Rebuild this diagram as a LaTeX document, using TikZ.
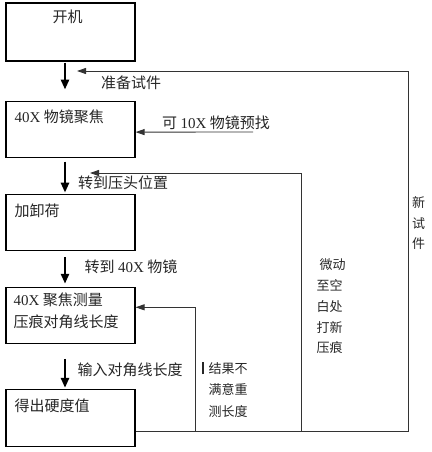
\documentclass[tikz,border=0pt]{standalone}
\usepackage{fontspec}
\setmainfont{Noto Sans CJK SC}
\newfontfamily\lat{Liberation Serif}
\usetikzlibrary{arrows.meta, positioning}

\begin{document}
\begin{tikzpicture}[x=1pt, y=-1pt, >={Triangle[length=9pt, width=6pt]},
  box/.style={draw, line width=1.1pt, minimum width=129pt, inner sep=0pt},
  txt/.style={inner sep=0pt, font=\fontsize{15}{22}\selectfont, text=black!85},
  small/.style={inner sep=0pt, text=black!85, align=left},
  flow/.style={-{Triangle[length=10pt, width=8pt]}, line width=2.5pt},
  back/.style={->, line width=0.9pt, draw=black!80}]
\useasboundingbox (0,0) rectangle (431,452);
% boxes
\node[box, minimum height=58pt] (b1) at (70.5,32) {};
\node[box, minimum height=56pt, below=39pt of b1] (b2) {};
\node[box, minimum height=56pt, below=36pt of b2] (b3) {};
\node[box, minimum height=56pt, below=36pt of b3] (b4) {};
\node[box, minimum height=57pt, below=45pt of b4] (b5) {};
\node[txt] (t1) at ([xshift=-3pt, yshift=-14pt]b1.north) {开机};
\node[txt, anchor=west] (t2) at ([xshift=9pt, yshift=-16pt]b2.north west) {{\lat 40X} 物镜聚焦};
\node[txt, anchor=west] (t3) at ([xshift=9pt, yshift=-17pt]b3.north west) {加卸荷};
\node[txt, anchor=west, align=left] (t4) at ([xshift=8pt, yshift=-24pt]b4.north west) {{\lat 40X} 聚焦测量\\压痕对角线长度};
\node[txt, anchor=west] (t5) at ([xshift=9pt, yshift=-17pt]b5.north west) {得出硬度值};
% main flow
\draw[flow, shorten <=1pt, shorten >=11pt] ([xshift=-5.5pt]b1.south) -- ([xshift=-5.5pt]b2.north);
\draw[flow, shorten <=4pt, shorten >=1pt] ([xshift=-5.5pt]b2.south) -- ([xshift=-5.5pt]b3.north);
\draw[flow, shorten <=6pt, shorten >=3pt] ([xshift=-5.5pt]b3.south) -- ([xshift=-5.5pt]b4.north);
\draw[flow, shorten <=15pt, shorten >=1pt] ([xshift=-5.5pt]b4.south) -- ([xshift=-5.5pt]b5.north);
\node[txt] (l1) at (131,83) {准备试件};
\node[txt] (l2) at (216,123) {可 {\lat 10X} 物镜预找};
\node[txt] (l3) at (123,183) {转到压头位置};
\node[txt] (l4) at (131,267) {转到 {\lat 40X} 物镜};
\node[txt] (l5) at (130,370) {输入对角线长度};
% loops back
\coordinate (ready) at (77,71);
\coordinate (find) at (253,132);
\coordinate (press) at (90,173);
\coordinate (j1) at (195,431);
\coordinate (j2) at (301,431);
\coordinate (rt) at (408,431);
\draw[back] (b5.east |- rt) -- (rt) |- (ready);
\draw[back] (find) -- ([yshift=-3pt]b2.east);
\draw[back] (j2) |- (press);
\draw[back] (j1) |- ([yshift=8pt]b4.east);
\node[small, font=\fontsize{13}{21.5}\selectfont] (l6) at (228,390) {\llap{\rule[-1pt]{1.8pt}{12pt}\hspace{5pt}}结果不\\满意重\\测长度};
\node[small, font=\fontsize{13}{20.75}\selectfont] (l7) at (331,306.5) {\hspace{3pt}微动\\至空\\白处\\打新\\压痕};
\node[small, font=\fontsize{13}{20.5}\selectfont] (l8) at (418.5,223.5) {新\\试\\件};
\end{tikzpicture}
\end{document}
